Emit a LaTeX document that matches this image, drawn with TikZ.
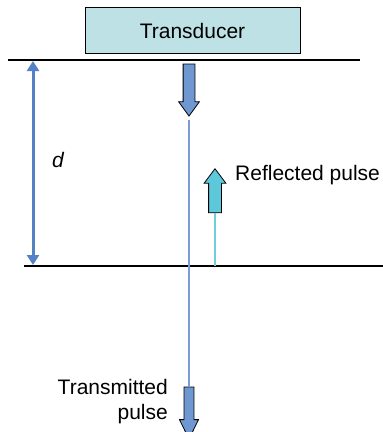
\documentclass[tikz,border=0pt]{standalone}
\usepackage{fontspec}
\setmainfont{Liberation Sans}
\usetikzlibrary{shapes.arrows,arrows.meta}
\definecolor{boxcyan}{HTML}{BDE1E4}
\definecolor{pulseblue}{HTML}{6F97D1}
\definecolor{rulerblue}{HTML}{5482C4}
\definecolor{beamblue}{HTML}{7B9CD9}
\definecolor{echocyan}{HTML}{5CC8DA}
\definecolor{echoline}{HTML}{6FCFDC}

\begin{document}
\begin{tikzpicture}[x=1pt,y=-1pt,font=\fontsize{21}{25}\selectfont]
    % `probe' is the transducer block on top.
    % `pulse' is used for the fat block arrows.
    % `surface' is used for the two black boundary lines.
    \tikzstyle{probe} = [draw,thick,fill=boxcyan,minimum width=215pt,minimum height=46pt,inner sep=0pt]
    \tikzstyle{pulse} = [draw,thick,single arrow,inner sep=0pt,single arrow head extend=4.5pt]
    \tikzstyle{surface} = [draw,line width=1.1pt]
    %
    \useasboundingbox (0,0) rectangle (383,432);
    \node[probe] (transducer) at (192.5,30.5) {Transducer};
    % Boundaries.
    \coordinate (top0) at (8,60);   \coordinate (top1) at (360,60);
    \coordinate (bot0) at (24,266); \coordinate (bot1) at (383,266);
    \draw[surface] (top0) -- (top1)  (bot0) -- (bot1);
    % Pulses.
    \node[pulse,fill=pulseblue,shape border rotate=270,minimum height=52pt,
          minimum width=20pt,single arrow tip angle=72,text width=11pt] (sent) at (189,86) {};
    \node[pulse,fill=echocyan,shape border rotate=90,minimum height=44pt,
          minimum width=20pt,single arrow tip angle=74,text width=12pt] (echo) at (215,195) {};
    \node[pulse,fill=pulseblue,shape border rotate=270,minimum height=52pt,
          minimum width=19pt,single arrow tip angle=52,text width=9pt] (trans) at (189,408) {};
    \coordinate (echofoot) at (215,266);
    \draw[beamblue,line width=1.2pt] (sent.tip) ++(0,3) -- (trans.tail);
    \draw[echoline,line width=1.3pt] (echo.tail) -- (echofoot);
    % Depth.
    \coordinate (dtop) at (33,61); \coordinate (dbot) at (33,265);
    \draw[rulerblue,line width=3pt,{Triangle[length=10pt,width=12pt]}-{Triangle[length=10pt,width=12pt]}] (dtop) -- (dbot);
    \node (dlabel) at (58,160) {\itshape d};
    % Labels.
    \node[anchor=west,inner sep=0pt] (reflabel) at (235,175) {Reflected pulse};
    \node[anchor=east,align=right,inner sep=0pt] (translabel) at (168,402) {Transmitted\\pulse};
\end{tikzpicture}
\end{document}
